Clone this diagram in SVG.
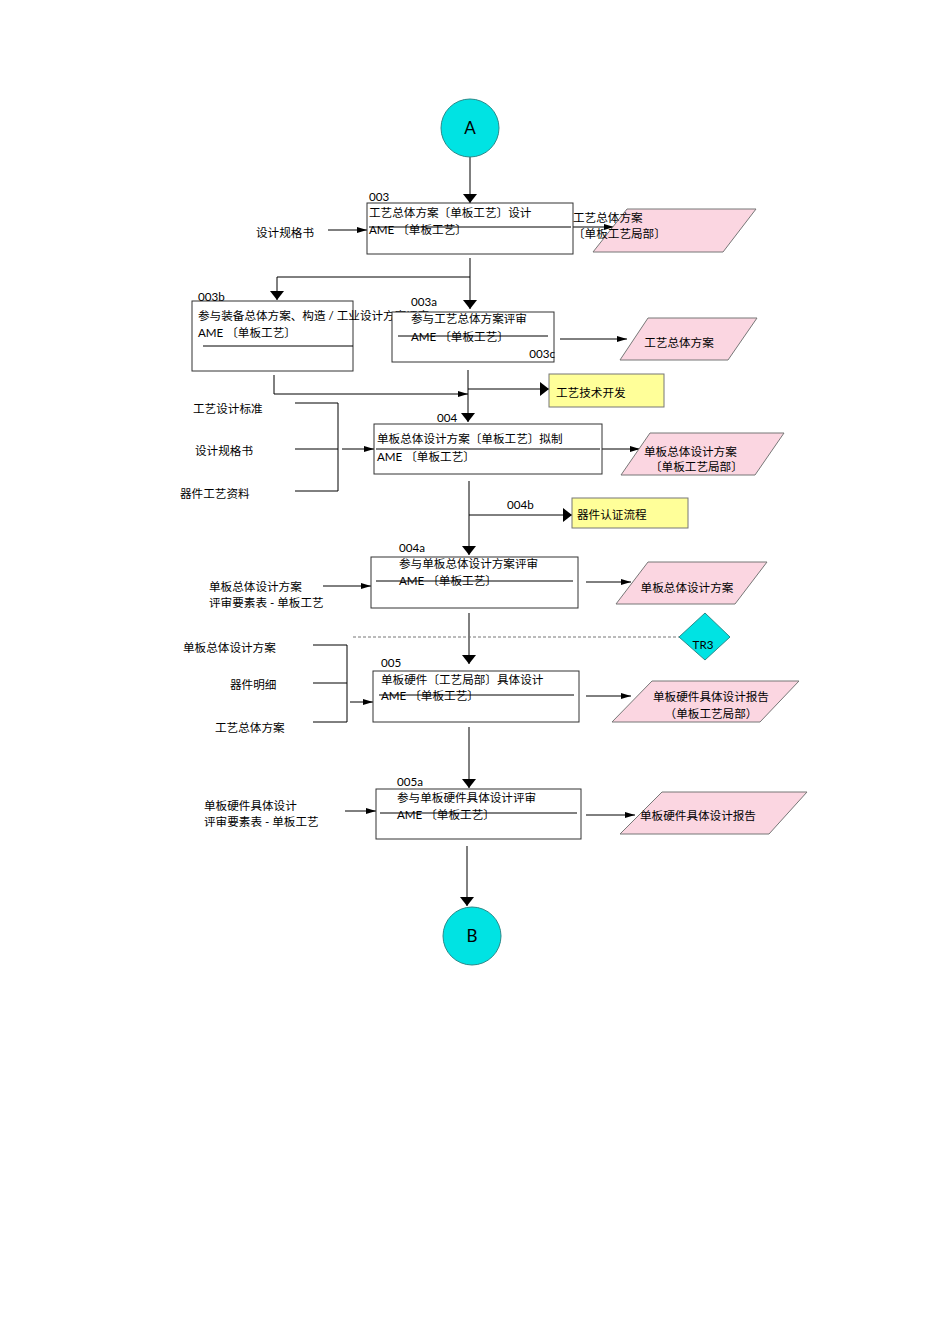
<svg xmlns="http://www.w3.org/2000/svg" width="950" height="1344" viewBox="0 0 950 1344">
<style>
text{font-family:Lato,"Noto Sans CJK SC",sans-serif;font-size:11.6px;fill:#000}
.box{fill:#fff;stroke:#333;stroke-width:1}
.ln{stroke:#000;stroke-width:1;fill:none}
.doc{fill:#fbd6e1;stroke:#777;stroke-width:1}
.yel{fill:#ffff99;stroke:#777;stroke-width:1}
.cyan{fill:#00e3e3;stroke:#2a8a8a;stroke-width:1}
.big{marker-end:url(#big)}
.sm{marker-end:url(#sm)}
.c{text-anchor:middle}
</style>
<defs>
<marker id="big" viewBox="0 0 9 14" refX="9" refY="7" markerWidth="9" markerHeight="14" orient="auto" markerUnits="userSpaceOnUse"><path d="M0,0 L9,7 L0,14 z" fill="#000"/></marker>
<marker id="sm" viewBox="0 0 10 6" refX="10" refY="3" markerWidth="10" markerHeight="6" orient="auto" markerUnits="userSpaceOnUse"><path d="M0,0 L10,3 L0,6 z" fill="#000"/></marker>
</defs>

<g id="connectors">
<line class="ln big" x1="470" y1="157" x2="470" y2="203"/>
<line class="ln sm" x1="328" y1="230" x2="367" y2="230"/>
<line class="ln sm" x1="573" y1="227" x2="614" y2="227"/>
<polyline class="ln" points="470,258 470,277"/>
<polyline class="ln big" points="470,277 277,277 277,300"/>
<line class="ln big" x1="470" y1="277" x2="470" y2="309"/>
<line class="ln sm" x1="560" y1="339" x2="627" y2="339"/>
<polyline class="ln sm" points="274,375 274,394 468,394"/>
<line class="ln big" x1="468" y1="370" x2="468" y2="422"/>
<line class="ln big" x1="468" y1="389" x2="549" y2="389"/>
<polyline class="ln" points="295,403 338,403 338,491 295,491"/>
<line class="ln" x1="295" y1="449" x2="338" y2="449"/>
<line class="ln sm" x1="342" y1="449" x2="374" y2="449"/>
<polyline class="ln sm" points="596,449 640,449"/>
<line class="ln big" x1="469" y1="481" x2="469" y2="555"/>
<line class="ln big" x1="469" y1="515" x2="572" y2="515"/>
<line class="ln sm" x1="323" y1="586" x2="371" y2="586"/>
<line class="ln sm" x1="586" y1="582" x2="631" y2="582"/>
<line class="ln big" x1="469" y1="613" x2="469" y2="664"/>
<line x1="353" y1="637" x2="679" y2="637" stroke="#777" stroke-width="1" stroke-dasharray="3,2"/>
<polyline class="ln" points="313,645 347,645 347,722 313,722"/>
<line class="ln" x1="313" y1="683" x2="347" y2="683"/>
<line class="ln sm" x1="350" y1="702" x2="373" y2="702"/>
<line class="ln sm" x1="586" y1="696" x2="631" y2="696"/>
<line class="ln big" x1="469" y1="727" x2="469" y2="788"/>
<line class="ln sm" x1="345" y1="811" x2="376" y2="811"/>
<line class="ln sm" x1="586" y1="815" x2="635" y2="815"/>
<line class="ln big" x1="467" y1="846" x2="467" y2="906"/>
</g>

<g id="nodeA">
<circle class="cyan" cx="470" cy="128" r="29"/>
<text x="470" y="134" class="c" style="font-size:17px">A</text>
</g>

<g id="n003">
<rect class="box" x="367" y="203" width="206" height="51"/>
<text x="369" y="201">003</text>
<text x="369" y="217">工艺总体方案〔单板工艺〕设计</text>
<line class="ln" x1="369" y1="227" x2="571" y2="227"/>
<text x="369" y="234">AME 〔单板工艺〕</text>
</g>
<g id="in003"><text x="256" y="237">设计规格书</text></g>
<g id="out003">
<polygon class="doc" points="593,252 627,209 756,209 723,252"/>
<text x="573" y="222">工艺总体方案</text>
<text x="573" y="238">〔单板工艺局部〕</text>
</g>

<g id="n003b">
<rect class="box" x="192" y="301" width="161" height="70"/>
<text x="198" y="301">003b</text>
<text x="198" y="320">参与装备总体方案、构造 /  工业设计方案评审</text>
<text x="198" y="337">AME 〔单板工艺〕</text>
<line class="ln" x1="203" y1="346" x2="353" y2="346"/>
</g>

<g id="n003a">
<rect class="box" x="392" y="312" width="162" height="50"/>
<text x="411" y="306">003a</text>
<text x="411" y="323">参与工艺总体方案评审</text>
<text x="411" y="341">AME 〔单板工艺〕</text>
<line class="ln" x1="398" y1="336" x2="548" y2="336"/>
<text x="555" y="358" text-anchor="end">003c</text>
</g>
<g id="out003a">
<polygon class="doc" points="620,360 648,318 757,318 728,360"/>
<text x="679" y="347" class="c">工艺总体方案</text>
</g>

<g id="dev">
<rect class="yel" x="549" y="374" width="115" height="33"/>
<text x="556" y="397">工艺技术开发</text>
</g>

<g id="n004">
<rect class="box" x="374" y="424" width="228" height="50"/>
<text x="437" y="422">004</text>
<text x="377" y="443">单板总体设计方案〔单板工艺〕拟制</text>
<line class="ln" x1="376" y1="449" x2="600" y2="449"/>
<text x="377" y="461">AME 〔单板工艺〕</text>
</g>
<g id="in004">
<text x="193" y="413">工艺设计标准</text>
<text x="195" y="455">设计规格书</text>
<text x="180" y="498">器件工艺资料</text>
</g>
<g id="out004">
<polygon class="doc" points="621,475 650,433 784,433 755,475"/>
<text x="644" y="456">单板总体设计方案</text>
<text x="650" y="471">〔单板工艺局部〕</text>
</g>

<g id="n004b">
<text x="507" y="509">004b</text>
<rect class="yel" x="572" y="498" width="116" height="30"/>
<text x="577" y="519">器件认证流程</text>
</g>

<g id="n004a">
<rect class="box" x="371" y="557" width="207" height="51"/>
<text x="399" y="552">004a</text>
<text x="399" y="568">参与单板总体设计方案评审</text>
<line class="ln" x1="376" y1="581" x2="573" y2="581"/>
<text x="399" y="585">AME 〔单板工艺〕</text>
</g>
<g id="in004a">
<text x="209" y="591">单板总体设计方案</text>
<text x="209" y="607">评审要素表 - 单板工艺</text>
</g>
<g id="out004a">
<polygon class="doc" points="616,604 648,562 767,562 735,604"/>
<text x="687" y="592" class="c">单板总体设计方案</text>
</g>

<g id="tr3">
<polygon class="cyan" points="705,613 730,637 705,660 679,637"/>
<text x="703" y="649" class="c">TR3</text>
</g>

<g id="n005">
<rect class="box" x="373" y="671" width="206" height="51"/>
<text x="381" y="667">005</text>
<text x="381" y="684">单板硬件〔工艺局部〕具体设计</text>
<line class="ln" x1="379" y1="695" x2="574" y2="695"/>
<text x="381" y="700">AME 〔单板工艺〕</text>
</g>
<g id="in005">
<text x="183" y="652">单板总体设计方案</text>
<text x="230" y="689">器件明细</text>
<text x="215" y="732">工艺总体方案</text>
</g>
<g id="out005">
<polygon class="doc" points="612,722 652,681 799,681 760,722"/>
<text x="711" y="701" class="c">单板硬件具体设计报告</text>
<text x="711" y="718" class="c">（单板工艺局部）</text>
</g>

<g id="n005a">
<rect class="box" x="376" y="789" width="205" height="50"/>
<text x="397" y="786">005a</text>
<text x="397" y="802">参与单板硬件具体设计评审</text>
<line class="ln" x1="380" y1="813" x2="577" y2="813"/>
<text x="397" y="819">AME 〔单板工艺〕</text>
</g>
<g id="in005a">
<text x="204" y="810">单板硬件具体设计</text>
<text x="204" y="826">评审要素表 - 单板工艺</text>
</g>
<g id="out005a">
<polygon class="doc" points="620,834 662,792 807,792 769,834"/>
<text x="640" y="820">单板硬件具体设计报告</text>
</g>

<g id="nodeB">
<circle class="cyan" cx="472" cy="936" r="29"/>
<text x="472" y="942" class="c" style="font-size:17px">B</text>
</g>
</svg>
